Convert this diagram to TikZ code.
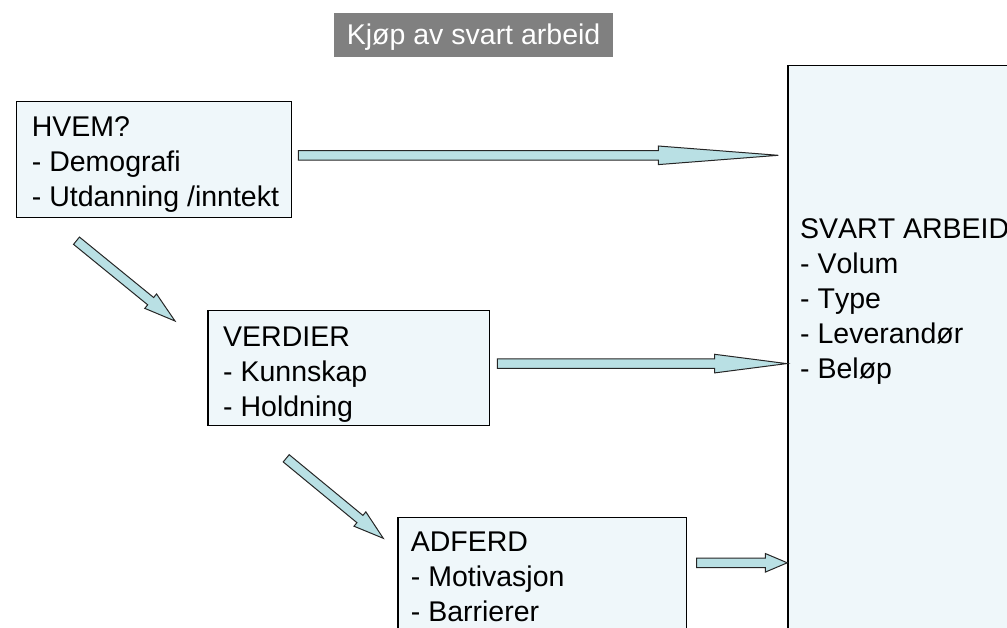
\documentclass[tikz,border=0pt]{standalone}
\usepackage{fontspec}
\setmainfont[Kerning=Off]{Liberation Sans}
\usetikzlibrary{calc}
\definecolor{boxfill}{RGB}{239,247,250}
\definecolor{arrowfill}{RGB}{185,224,228}
\definecolor{titlefill}{RGB}{128,128,128}
\tikzset{
  panel/.style={draw=black, line width=1.2pt, fill=boxfill, rectangle, inner sep=0pt, anchor=north west},
  txt/.style={inner sep=0pt, anchor=base west, font=\fontsize{28.5}{35}\selectfont},
  fatarrowstyle/.style={draw=black!85, line width=1pt, fill=arrowfill, line join=miter},
}
\newcommand\fatarrow[4]{% tail, tip, head length, name
  \coordinate (#4h) at ($(#2)!#3!(#1)$);
  \filldraw[fatarrowstyle] ($(#1)!4.7pt!90:(#2)$) -- ($(#4h)!4.7pt!90:(#2)$) -- ($(#4h)!9.3pt!90:(#2)$) -- (#2) -- ($(#4h)!9.3pt!-90:(#2)$) -- ($(#4h)!4.7pt!-90:(#2)$) -- ($(#1)!4.7pt!-90:(#2)$) -- cycle;
}
\begin{document}
\begin{tikzpicture}[x=1pt,y=-1pt]
\useasboundingbox (0,0) rectangle (1007,627);
\clip (0,0) rectangle (1007,627);
% title
\node[fill=titlefill, inner sep=0pt, minimum width=279pt, minimum height=44pt, anchor=north west] (title) at (334,13) {};
\node[txt, text=white] (titletxt) at (346.7,44) {Kjøp av svart arbeid};
% boxes
\node[panel, minimum width=275pt, minimum height=116pt] (hvem) at (16,101) {};
\node[panel, minimum width=281.7pt, minimum height=115pt] (verdier) at (207.3,310) {};
\node[panel, minimum width=288.7pt, minimum height=200pt] (adferd) at (397.3,516.7) {};
\node[panel, minimum width=400pt, minimum height=700pt] (svart) at (787.3,64.7) {};
% texts
\node[txt] (hvemtxt) at (31.7,136.7) {\vtop{\hbox{HVEM?}\hbox{- Demografi}\hbox{- Utdanning /inntekt}}};
\node[txt] (verdiertxt) at (223,346.7) {\vtop{\hbox{VERDIER}\hbox{- Kunnskap}\hbox{- Holdning}}};
\node[txt] (adferdtxt) at (410.7,551.7) {\vtop{\hbox{ADFERD}\hbox{- Motivasjon}\hbox{- Barrierer}}};
\node[txt] (svarttxt) at (800,238.7) {\vtop{\hbox{SVART ARBEID}\hbox{- Volum}\hbox{- Type}\hbox{- Leverandør}\hbox{- Beløp}}};
% connector end points
\coordinate (a1t) at (298.3,155.3);
\coordinate (a1h) at (778.3,155.3);
\coordinate (a2t) at (497.3,363.6);
\coordinate (a2h) at (786.7,363.6);
\coordinate (a3t) at (696.7,562.8);
\coordinate (a3h) at (787.3,562.8);
\coordinate (d1t) at (76.5,240.7);
\coordinate (d1h) at (175,321);
\coordinate (d2t) at (286.2,458.3);
\coordinate (d2h) at (383.3,538.3);
% arrows
\fatarrow{a1t}{a1h}{120pt}{x1}
\fatarrow{a2t}{a2h}{72pt}{x2}
\fatarrow{a3t}{a3h}{22pt}{x3}
\fatarrow{d1t}{d1h}{31.4pt}{x4}
\fatarrow{d2t}{d2h}{30.3pt}{x5}
\end{tikzpicture}
\end{document}
